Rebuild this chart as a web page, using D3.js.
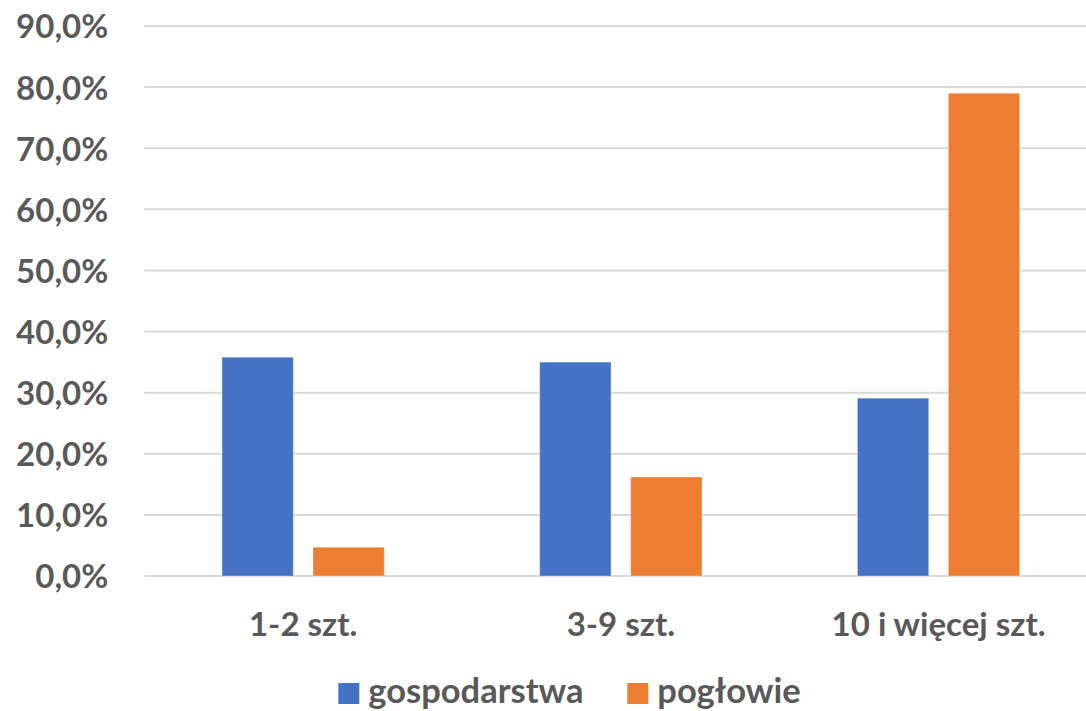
<!DOCTYPE html>
<html>
<head>
<meta charset="utf-8">
<script src="https://cdn.jsdelivr.net/npm/d3@7"></script>
<style>
  html, body { margin: 0; padding: 0; background: #fff; }
  svg { display: block; }
  text { font-family: Lato, "Open Sans", sans-serif; font-weight: 700; fill: #595959; }
</style>
</head>
<body>
<svg id="chart" width="1086" height="711"></svg>
<script>
const categories = ["1-2 szt.", "3-9 szt.", "10 i więcej szt."];
const seriesNames = ["gospodarstwa", "pogłowie"];
const gospodarstwa = [0.358, 0.350, 0.291];
const poglowie = [0.047, 0.162, 0.790];
const yTicks = [0, 0.1, 0.2, 0.3, 0.4, 0.5, 0.6, 0.7, 0.8, 0.9];
const colors = ["#4472C4", "#ED7D31"];

const seriesValues = [gospodarstwa, poglowie];
const data = categories.map((c, i) => ({
  category: c,
  values: seriesNames.map((s, j) => ({ series: s, value: seriesValues[j][i] }))
}));

const svg = d3.select("#chart");
const plot = { left: 144.3, right: 1097.4, top: 26, bottom: 576 };

const x0 = d3.scaleBand().domain(categories).range([plot.left, plot.right]).paddingInner(0).paddingOuter(0);
const outerPad = 77.7;
const x1 = d3.scaleBand().domain(seriesNames)
  .range([outerPad, x0.bandwidth() - outerPad]).paddingInner(0.216).paddingOuter(0);
const y = d3.scaleLinear().domain([0, 0.9]).range([plot.bottom, plot.top]);
const color = d3.scaleOrdinal().domain(seriesNames).range(colors);

const fmt = v => d3.format(".1f")(v * 100).replace(".", ",") + "%";

// gridlines
svg.append("g").selectAll("line").data(yTicks).join("line")
  .attr("x1", plot.left).attr("x2", plot.right)
  .attr("y1", d => y(d)).attr("y2", d => y(d))
  .attr("stroke", "#d9d9d9").attr("stroke-width", 2);

// y axis labels
const yAxis = d3.axisLeft(y).tickValues(yTicks).tickFormat(fmt).tickSize(0).tickPadding(36);
const gy = svg.append("g").attr("transform", `translate(${plot.left},0)`).call(yAxis);
gy.select(".domain").remove();
gy.selectAll("text").attr("font-size", 33).style("font-family", "Lato, sans-serif")
  .attr("dy", "0.36em").attr("fill", "#595959");

// bars
const groups = svg.append("g").selectAll("g").data(data).join("g")
  .attr("transform", d => `translate(${x0(d.category)},0)`);
groups.selectAll("rect").data(d => d.values).join("rect")
  .attr("x", d => x1(d.series))
  .attr("width", x1.bandwidth())
  .attr("y", d => y(d.value))
  .attr("height", d => y(0) - y(d.value))
  .attr("fill", d => color(d.series))
  .attr("stroke", "rgba(255,255,255,0.35)").attr("stroke-width", 1);

// x axis labels
const xAxis = d3.axisBottom(x0).tickSize(0).tickPadding(0);
const gx = svg.append("g").attr("transform", `translate(0,${plot.bottom})`).call(xAxis);
gx.select(".domain").remove();
gx.selectAll("text").attr("font-size", 33).style("font-family", "Lato, sans-serif")
  .attr("y", 60).attr("dy", 0).attr("fill", "#595959");

// legend
const legendItems = [
  { name: seriesNames[0], x: 338.3 },
  { name: seriesNames[1], x: 627.3 }
];
const lg = svg.append("g").selectAll("g").data(legendItems).join("g")
  .attr("transform", d => `translate(${d.x},683)`);
lg.append("rect").attr("width", 21).attr("height", 21).attr("fill", d => color(d.name));
lg.append("text").attr("x", 30).attr("y", 20).attr("font-size", 34.5).text(d => d.name);
</script>
</body>
</html>
